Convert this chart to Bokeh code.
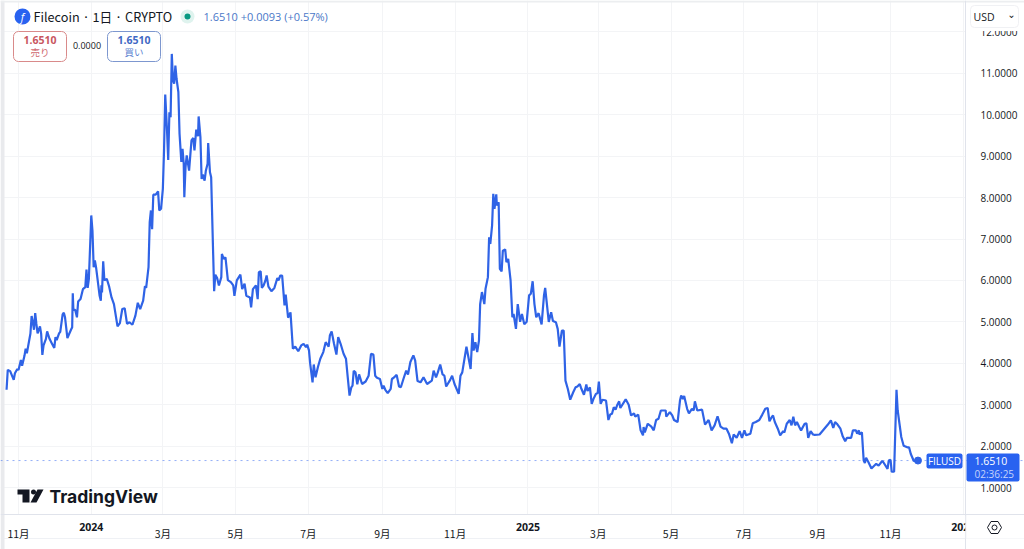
from bokeh.embed import file_html
from bokeh.models import BoxAnnotation, FixedTicker, Grid, Label, LinearAxis, PolyAnnotation, PrintfTickFormatter, Span
from bokeh.plotting import figure
from bokeh.resources import INLINE

# days since 2023-11-01
days = [-10, -9, -7, -4, -3, -1, 0, 2, 3, 5, 6, 7, 10, 11, 12, 13, 14, 15, 16, 18, 19, 20, 21, 23, 24, 26, 28, 30, 31,
        32, 34, 35, 37, 38, 39, 41, 44, 45, 45.5, 46, 47.5, 49, 50, 52, 54, 56, 57, 58, 59, 61, 62, 63, 64, 65, 68, 69,
        69.5, 70, 71, 72, 74, 76, 78, 80, 83, 85, 87, 89, 91, 93, 95.5, 98, 100, 102, 104.5, 106, 107, 109, 110, 111,
        112, 113, 115, 117, 118, 119.5, 121, 122, 123, 124.5, 125.5, 126.5, 127.5, 128.5, 129.5, 130.5, 131.5, 132.5,
        134, 135, 136.5, 137.5, 138.5, 139, 140, 141, 143, 145, 146.5, 147.5, 149, 150.5, 151, 152.5, 153.5, 154.5,
        156, 157, 158.5, 159, 160.5, 161.5, 164, 165, 166.5, 168, 170, 170.5, 172, 173.5, 175.5, 178, 180, 181, 183,
        186, 187.5, 189.5, 191, 194, 195, 196.5, 199, 200.5, 201.5, 203, 204, 205.5, 207, 208, 209.5, 212, 214.5, 217,
        218, 219.5, 221, 223, 224, 226, 228, 230, 232, 234.5, 237, 239, 241, 242, 243.5, 244.5, 246.5, 247.5, 249, 251,
        253, 255.5, 257.5, 260, 261, 262.5, 264.5, 266.5, 268, 270, 272.5, 274.5, 276, 277.5, 279, 280, 281, 282.5,
        284, 285.5, 288, 291, 293.5, 295.5, 297.5, 299, 300.5, 303, 305, 306, 307.5, 309.5, 312, 313, 314.5, 317, 319,
        320.5, 323, 325, 326.5, 328.5, 331, 332.5, 334.5, 337, 339.5, 342.5, 346.5, 348, 350, 351.5, 353.5, 355.5, 357,
        358.5, 361.5, 363.5, 365.5, 369, 370.5, 372, 375.5, 379, 380.5, 381.5, 383, 384.5, 386, 387, 388.5, 390.5,
        391.5, 393.5, 394.5, 395.5, 397, 398, 399, 400.5, 401, 402.5, 403.5, 405, 406, 408, 409, 410.5, 412.5, 414,
        415, 417, 418.5, 420.5, 422, 424, 426, 428, 429.5, 431, 432.5, 434, 436, 438.5, 440.5, 441.5, 444.5, 446.5,
        448, 450.5, 452, 453.5, 455.5, 457, 458.5, 460.5, 462.5, 465, 467, 468.5, 470.5, 471.5, 474, 476, 477, 479,
        480.5, 482, 484, 485.5, 486.5, 488, 489.5, 492.5, 494.5, 496, 497.5, 499, 500.5, 502, 503.5, 504.5, 509, 511.5,
        513.5, 516, 517, 519.5, 521.5, 523.5, 524, 525, 527.5, 530.5, 532.5, 534.5, 536.5, 538.5, 542.5, 543, 546, 548,
        549.5, 552.5, 554.5, 555.5, 557, 558, 560.5, 562, 564.5, 566, 567, 569, 573, 575.5, 578.5, 581, 583.5, 586,
        588.5, 591, 593.5, 595.5, 598, 599.5, 602, 604.5, 606.5, 608.5, 610, 613.5, 615.5, 618, 621, 623.5, 626, 628,
        629.5, 631, 632.5, 634, 636.5, 638.5, 641, 642, 644, 646.5, 648, 649.5, 651, 652.5, 654.5, 656, 659, 660.5, 662,
        664, 666, 667.5, 671.5, 675, 678.5, 681, 683, 684.5, 686, 689, 691, 693, 694.5, 698, 699.5, 702, 703, 704.5,
        705, 707, 708.5, 709.5, 710.5, 712.5, 715, 717.5, 719, 721, 724, 725, 728.5, 729.5, 731, 732, 734, 736, 737,
        738.5, 740, 742, 745, 746.5, 748, 750.5, 754]

prices = [3.36, 3.84, 3.81, 3.6, 3.76, 3.86, 3.84, 4.08, 3.94, 4.18, 4.35, 4.24, 4.72, 5.14, 4.99, 4.81, 5.21, 4.95,
          4.72, 4.89, 4.71, 4.2, 4.43, 4.59, 4.77, 4.59, 4.48, 4.37, 4.63, 4.56, 4.72, 4.76, 5.18, 5.22, 5.11, 4.61,
          4.81, 4.87, 5.69, 5.29, 5.29, 5.11, 5.49, 5.55, 5.79, 5.84, 6.26, 5.82, 6.04, 7.57, 7.2, 6.32, 6.48, 6.32,
          5.63, 5.51, 5.88, 5.71, 6.46, 6.0, 6.04, 5.85, 5.59, 5.43, 4.89, 4.97, 5.31, 5.33, 4.95, 4.99, 4.93, 5.15,
          5.46, 5.31, 5.51, 5.86, 5.82, 6.32, 7.41, 7.69, 7.24, 8.07, 8.07, 8.15, 7.69, 7.73, 8.21, 9.14, 10.49, 9.62,
          8.91, 10.06, 9.94, 11.47, 10.83, 10.75, 11.19, 10.87, 10.55, 9.54, 8.86, 9.18, 8.82, 8.01, 8.73, 9.02, 8.65,
          9.38, 9.44, 9.14, 9.64, 9.48, 9.96, 9.46, 8.45, 8.56, 8.41, 8.64, 8.82, 9.32, 8.61, 8.49, 5.74, 6.14, 6.06,
          5.88, 6.08, 6.64, 6.52, 6.56, 6.01, 5.96, 5.88, 5.63, 6.0, 6.14, 5.79, 5.92, 5.63, 5.59, 5.35, 5.79, 5.88,
          5.55, 6.2, 6.22, 5.82, 5.88, 6.0, 6.12, 5.85, 5.74, 5.82, 6.06, 6.0, 6.12, 6.12, 5.4, 5.66, 5.1, 5.23, 4.35,
          4.4, 4.29, 4.43, 4.47, 4.39, 4.45, 4.31, 3.99, 3.54, 3.97, 3.66, 3.91, 4.11, 4.27, 4.51, 4.4, 4.67, 4.77,
          4.47, 4.21, 4.63, 4.47, 4.23, 4.11, 3.66, 3.22, 3.42, 3.46, 3.82, 3.78, 3.49, 3.73, 3.5, 3.56, 3.7, 4.23,
          4.21, 3.7, 3.65, 3.62, 3.38, 3.46, 3.36, 3.28, 3.38, 3.62, 3.65, 3.72, 3.44, 3.42, 3.65, 3.82, 3.73, 4.03,
          4.19, 4.07, 3.57, 3.54, 3.66, 3.5, 3.58, 3.82, 3.66, 3.78, 3.97, 3.73, 3.7, 3.44, 3.58, 3.7, 3.5, 3.26, 3.7,
          3.78, 4.4, 3.86, 4.73, 4.31, 4.51, 4.27, 4.55, 5.43, 5.72, 5.43, 5.8, 6.08, 7.04, 6.88, 7.33, 8.09, 7.73,
          8.08, 7.81, 7.89, 6.28, 6.22, 6.72, 6.75, 6.44, 6.52, 6.0, 5.11, 5.19, 4.83, 5.43, 5.0, 5.19, 4.94, 5.0,
          5.64, 5.68, 5.98, 5.43, 5.11, 5.21, 4.94, 5.64, 5.82, 5.0, 5.23, 5.02, 4.99, 4.83, 4.4, 4.79, 4.79, 3.58,
          3.38, 3.12, 3.3, 3.42, 3.44, 3.5, 3.41, 3.24, 3.49, 3.33, 3.42, 3.02, 3.14, 3.26, 3.28, 3.56, 3.02, 3.12,
          3.1, 2.63, 2.76, 2.78, 2.94, 2.88, 3.0, 3.08, 2.92, 3.13, 3.0, 2.74, 2.79, 2.71, 2.76, 2.38, 2.26, 2.46,
          2.33, 2.54, 2.47, 2.38, 2.63, 2.66, 2.86, 2.86, 2.71, 2.82, 2.74, 2.63, 2.58, 3.1, 3.22, 3.14, 3.21, 2.9,
          2.79, 2.9, 2.86, 3.08, 2.86, 2.88, 2.52, 2.63, 2.38, 2.5, 2.72, 2.47, 2.42, 2.42, 2.3, 2.07, 2.28, 2.2, 2.36,
          2.2, 2.38, 2.26, 2.3, 2.55, 2.58, 2.63, 2.76, 2.9, 2.92, 2.6, 2.68, 2.74, 2.58, 2.42, 2.26, 2.36, 2.33, 2.54,
          2.63, 2.5, 2.71, 2.5, 2.58, 2.46, 2.38, 2.54, 2.55, 2.2, 2.36, 2.28, 2.27, 2.28, 2.4, 2.52, 2.62, 2.44, 2.58,
          2.54, 2.42, 2.23, 2.12, 2.2, 2.2, 2.38, 2.38, 2.3, 2.38, 2.28, 2.33, 1.65, 1.59, 1.72, 1.61, 1.46, 1.53, 1.57,
          1.53, 1.64, 1.61, 1.45, 1.65, 1.67, 1.38, 1.38, 3.36, 2.86, 2.54, 2.22, 2.01, 1.97, 1.97, 1.81, 1.64, 1.651]

month_ticks = [0, 121, 182, 243, 305, 366, 486, 547, 608, 670, 731]
month_labels = ['11月', '3月', '5月', '7月', '9月', '11月', '3月', '5月', '7月', '9月', '11月']
year_ticks = [61, 427, 792]
year_labels = ['2024', '2025', '2026']
price_ticks = [1, 2, 3, 4, 5, 6, 7, 8, 9, 10, 11, 12]
last_price = 1.651

LINE = '#2f63e6'
BLUE = '#2962f0'
TEXT = '#131722'
BORDER = '#e0e3eb'
GRID = '#f3f4f6'
SANS = 'Open Sans'
CJK = 'Noto Sans CJK JP'

WIDTH = 1024
HEIGHT = 549

# annotations get clipped to the frame, so the frame fills the figure and the axes sit on it
p = figure(width=WIDTH, height=HEIGHT, output_backend="svg", toolbar_location=None,
           x_range=(-15.09, 843.3), y_range=(-0.497, 12.76), x_axis_location=None, y_axis_location=None,
           min_border=0, outline_line_color=None, border_fill_color='white')

# the figure still makes its own grids, they would tick every 200 days
p.grid.visible = False
all_x_ticks = month_ticks + year_ticks
p.add_layout(Grid(dimension=0, ticker=FixedTicker(ticks=all_x_ticks), grid_line_color=GRID))
p.add_layout(Grid(dimension=1, ticker=FixedTicker(ticks=price_ticks), grid_line_color=GRID))


# helpers take pixels from the top left of the page
def sy(y):
    return HEIGHT - y


def box(left, top, right, bottom, fill=None, line=None, radius=0, level='annotation'):
    p.add_layout(BoxAnnotation(left=left, right=right, top=sy(top), bottom=sy(bottom),
                               left_units='screen', right_units='screen', top_units='screen', bottom_units='screen',
                               fill_color=fill, fill_alpha=1 if fill else 0,
                               line_color=line, line_alpha=1 if line else 0,
                               border_radius=radius, level=level))


def text(x, y, s, size=11, color=TEXT, font=SANS, style='normal', align='left'):
    p.add_layout(Label(x=x, y=sy(y), x_units='screen', y_units='screen', text=s, text_font=font,
                       text_font_size=f'{size}px', text_color=color, text_font_style=style, text_align=align,
                       text_baseline='middle'))


def poly(points, fill=None, line=None):
    p.add_layout(PolyAnnotation(xs=[a for a, b in points], ys=[sy(b) for a, b in points],
                                xs_units='screen', ys_units='screen',
                                fill_color=fill, fill_alpha=1 if fill else 0,
                                line_color=line, line_alpha=1 if line else 0))


# white scale panels hide the grid, window frame on the left and top
box(965, 0, WIDTH, HEIGHT, fill='white', level='underlay')
box(0, 514, WIDTH, HEIGHT, fill='white', level='underlay')
box(0, 538, WIDTH, 538.5, fill=BORDER, level='underlay')
box(0, 0, 4, HEIGHT, fill='#e9eaed', level='underlay')
box(0, 0, WIDTH, 2, fill='#eceef0', level='underlay')

p.line(days, prices, line_color=LINE, line_width=2.2)
p.scatter([days[-1]], [prices[-1]], size=7, color=LINE)
p.add_layout(Span(location=last_price, dimension='width', line_color=BLUE, line_width=1, line_dash='dotted',
                  line_alpha=0.5))

overrides = {d: l for d, l in zip(month_ticks, month_labels)}
overrides.update({d: '' for d in year_ticks})
xaxis = LinearAxis(fixed_location=0.348, ticker=FixedTicker(ticks=all_x_ticks), major_label_overrides=overrides,
                   major_label_text_font=CJK, major_label_text_font_size='10.5px', major_label_text_color=TEXT,
                   major_label_standoff=5, major_tick_line_color=None, minor_tick_line_color=None,
                   axis_line_color=BORDER)
p.add_layout(xaxis, 'below')

yaxis = LinearAxis(fixed_location=793.8, ticker=FixedTicker(ticks=price_ticks),
                   formatter=PrintfTickFormatter(format='%.4f'),
                   major_label_text_font=SANS, major_label_text_font_size='10px', major_label_text_color=TEXT,
                   major_label_standoff=9, major_tick_line_color=None, minor_tick_line_color=None,
                   axis_line_color=BORDER)
p.add_layout(yaxis, 'right')

# years are bold, so they sit on top of the axis as labels
for d, l in zip(year_ticks, year_labels):
    p.add_layout(Label(x=d, y=sy(526), y_units='screen', text=l, text_font=SANS, text_font_size='10.5px',
                       text_font_style='bold', text_color=TEXT, text_align='center', text_baseline='middle'))

# scale corner covers the clipped 2026 label, the currency box clips the top of 12.0000
box(965, 515, WIDTH, 538, fill='white')
box(965, 514, 965.7, 538, fill=BORDER)
box(970, 26, 1018, 30.5, fill='white')
box(970, 5, 1018, 27, fill='white', line='#f0f1f4', radius=4)
text(973, 16, 'USD', size=10.5)
text(1011, 14, '⌄', size=10, font='DejaVu Sans', align='center')
poly([(987, 527), (990.5, 521), (997.5, 521), (1001, 527), (997.5, 533), (990.5, 533)], line=TEXT)
box(991.5, 524.5, 996.5, 529.5, line=TEXT, radius=3)

# header
box(14, 8, 30, 24, fill=BLUE, radius=8)
text(22, 16, 'f', size=11, color='white', style='italic', align='center')
text(33, 16, 'Filecoin · 1日 · CRYPTO', size=12.7, font=CJK)
box(180, 9, 194, 23, fill='#dff3ee', radius=7)
box(184, 13, 190, 19, fill='#089981', radius=3)
text(203, 16, '1.6510  +0.0093  (+0.57%)', size=11, color='#4a78c8')

# sell and buy buttons
box(13, 31, 66, 61, fill='white', line='#d98a8a', radius=5)
text(39.5, 39, '1.6510', size=10.5, color='#c8565e', style='bold', align='center')
text(39.5, 51, '売り', size=9.5, color='#d06a70', font=CJK, align='center')
text(86.5, 45, '0.0000', size=9, align='center')
box(107, 31, 160, 61, fill='white', line='#7d97cf', radius=5)
text(133.5, 39, '1.6510', size=10.5, color='#3f68c4', style='bold', align='center')
text(133.5, 51, '買い', size=9.5, color='#5a7fd0', font=CJK, align='center')

# last price tags
box(926, 453, 962, 468, fill=BLUE, radius=2)
text(944, 460.5, 'FILUSD', size=10, color='white', align='center')
box(966, 453, 1019, 481, fill=BLUE, radius=2)
text(974, 460.5, '1.6510', size=10.5, color='white')
text(974, 473.5, '02:36:25', size=10, color='#c6d4fb')

# logo
poly([(17, 489), (29, 489), (29, 502), (22, 502), (22, 494), (17, 494)], fill=TEXT)
box(30.5, 489, 35.5, 494, fill=TEXT, radius=3)
poly([(37, 489), (43, 489), (36, 502), (30, 502)], fill=TEXT)
text(49, 496, 'TradingView', size=17.5, font='Inter', style='bold')

open("out.html", "w").write(file_html(p, INLINE))
